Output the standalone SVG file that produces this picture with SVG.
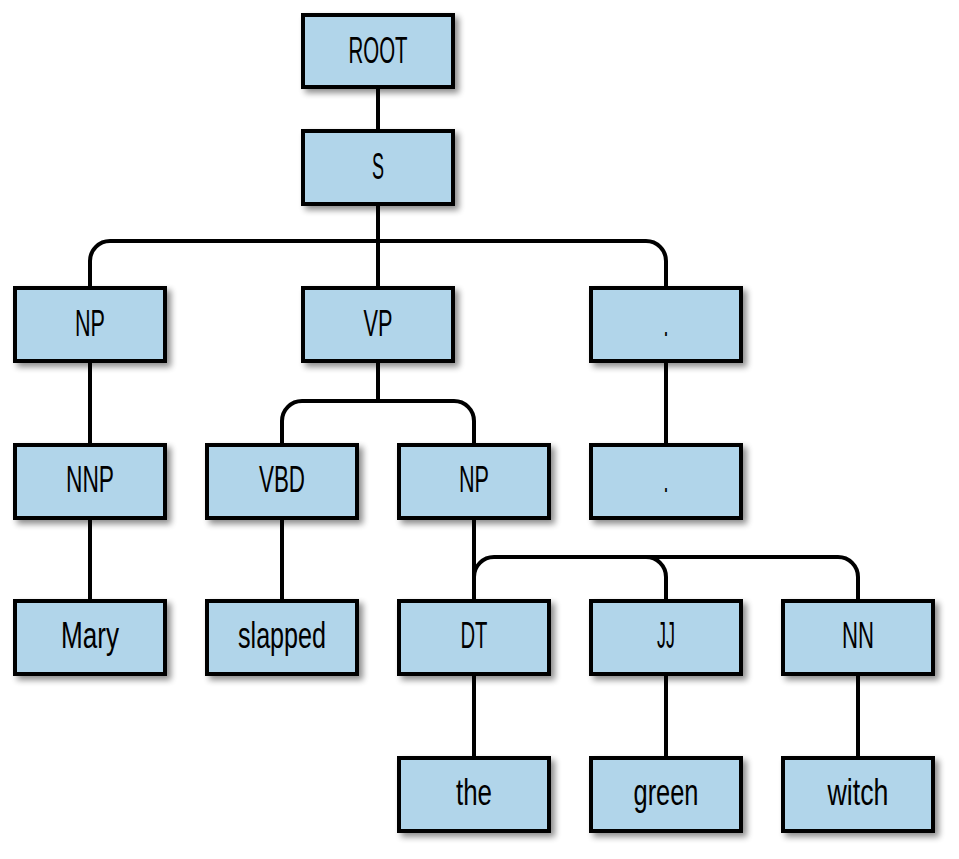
<svg xmlns="http://www.w3.org/2000/svg" width="959" height="859" viewBox="0 0 959 859">
<defs>
<filter id="sh" x="-10%" y="-10%" width="130%" height="140%">
<feGaussianBlur in="SourceAlpha" stdDeviation="3"/>
<feOffset dx="4" dy="4" result="b"/>
<feComponentTransfer><feFuncA type="linear" slope="0.45"/></feComponentTransfer>
<feMerge><feMergeNode/><feMergeNode in="SourceGraphic"/></feMerge>
</filter>
<style>
.box{fill:#b1d5ea;stroke:#000;stroke-width:4;filter:url(#sh)}
.lbl{font-family:"Liberation Sans",Arial,sans-serif;font-size:36px;fill:#000;text-anchor:middle}
.con{fill:none;stroke:#000;stroke-width:4}
</style>
</defs>
<rect width="959" height="859" fill="#fff"/>
<g id="connectors" class="con">
<path d="M378,87 V131"/>
<path d="M378,204 V288"/>
<path d="M90,288 V261 A20,20 0 0 1 110,241 H646 A20,20 0 0 1 666,261 V288"/>
<path d="M90,361 V445"/>
<path d="M90,518 V601"/>
<path d="M378,361 V401"/>
<path d="M282,445 V421 A20,20 0 0 1 302,401 H454 A20,20 0 0 1 474,421 V445"/>
<path d="M666,361 V445"/>
<path d="M282,518 V601"/>
<path d="M474,518 V601"/>
<path d="M474,577 A20,20 0 0 1 494,557 H838 A20,20 0 0 1 858,577 V601"/>
<path d="M646,557 A20,20 0 0 1 666,577 V601"/>
<path d="M474,674 V758"/>
<path d="M666,674 V758"/>
<path d="M858,674 V758"/>
</g>
<g id="n_root"><rect class="box" x="303" y="15" width="150" height="72"/><text class="lbl" x="378" y="63" textLength="59" lengthAdjust="spacingAndGlyphs">ROOT</text></g>
<g id="n_s"><rect class="box" x="303" y="131" width="150" height="73"/><text class="lbl" x="378" y="179" textLength="12" lengthAdjust="spacingAndGlyphs">S</text></g>
<g id="n_np1"><rect class="box" x="15" y="288" width="150" height="73"/><text class="lbl" x="90" y="336" textLength="30" lengthAdjust="spacingAndGlyphs">NP</text></g>
<g id="n_vp"><rect class="box" x="303" y="288" width="150" height="73"/><text class="lbl" x="378" y="336" textLength="29" lengthAdjust="spacingAndGlyphs">VP</text></g>
<g id="n_dot1"><rect class="box" x="591" y="288" width="150" height="73"/><text class="lbl" x="666" y="336" textLength="5" lengthAdjust="spacingAndGlyphs">.</text></g>
<g id="n_nnp"><rect class="box" x="15" y="445" width="150" height="73"/><text class="lbl" x="90" y="492" textLength="48" lengthAdjust="spacingAndGlyphs">NNP</text></g>
<g id="n_vbd"><rect class="box" x="207" y="445" width="150" height="73"/><text class="lbl" x="282" y="492" textLength="46" lengthAdjust="spacingAndGlyphs">VBD</text></g>
<g id="n_np2"><rect class="box" x="399" y="445" width="150" height="73"/><text class="lbl" x="474" y="492" textLength="30" lengthAdjust="spacingAndGlyphs">NP</text></g>
<g id="n_dot2"><rect class="box" x="591" y="445" width="150" height="73"/><text class="lbl" x="666" y="492" textLength="5" lengthAdjust="spacingAndGlyphs">.</text></g>
<g id="n_mary"><rect class="box" x="15" y="601" width="150" height="73"/><text class="lbl" x="90" y="648" textLength="58" lengthAdjust="spacingAndGlyphs">Mary</text></g>
<g id="n_slapped"><rect class="box" x="207" y="601" width="150" height="73"/><text class="lbl" x="282" y="648" textLength="88" lengthAdjust="spacingAndGlyphs">slapped</text></g>
<g id="n_dt"><rect class="box" x="399" y="601" width="150" height="73"/><text class="lbl" x="474" y="648" textLength="27" lengthAdjust="spacingAndGlyphs">DT</text></g>
<g id="n_jj"><rect class="box" x="591" y="601" width="150" height="73"/><text class="lbl" x="666" y="648" textLength="18" lengthAdjust="spacingAndGlyphs">JJ</text></g>
<g id="n_nn"><rect class="box" x="783" y="601" width="150" height="73"/><text class="lbl" x="858" y="648" textLength="32" lengthAdjust="spacingAndGlyphs">NN</text></g>
<g id="n_the"><rect class="box" x="399" y="758" width="150" height="73"/><text class="lbl" x="474" y="805" textLength="36" lengthAdjust="spacingAndGlyphs">the</text></g>
<g id="n_green"><rect class="box" x="591" y="758" width="150" height="73"/><text class="lbl" x="666" y="805" textLength="65" lengthAdjust="spacingAndGlyphs">green</text></g>
<g id="n_witch"><rect class="box" x="783" y="758" width="150" height="73"/><text class="lbl" x="858" y="805" textLength="61" lengthAdjust="spacingAndGlyphs">witch</text></g>
</svg>
